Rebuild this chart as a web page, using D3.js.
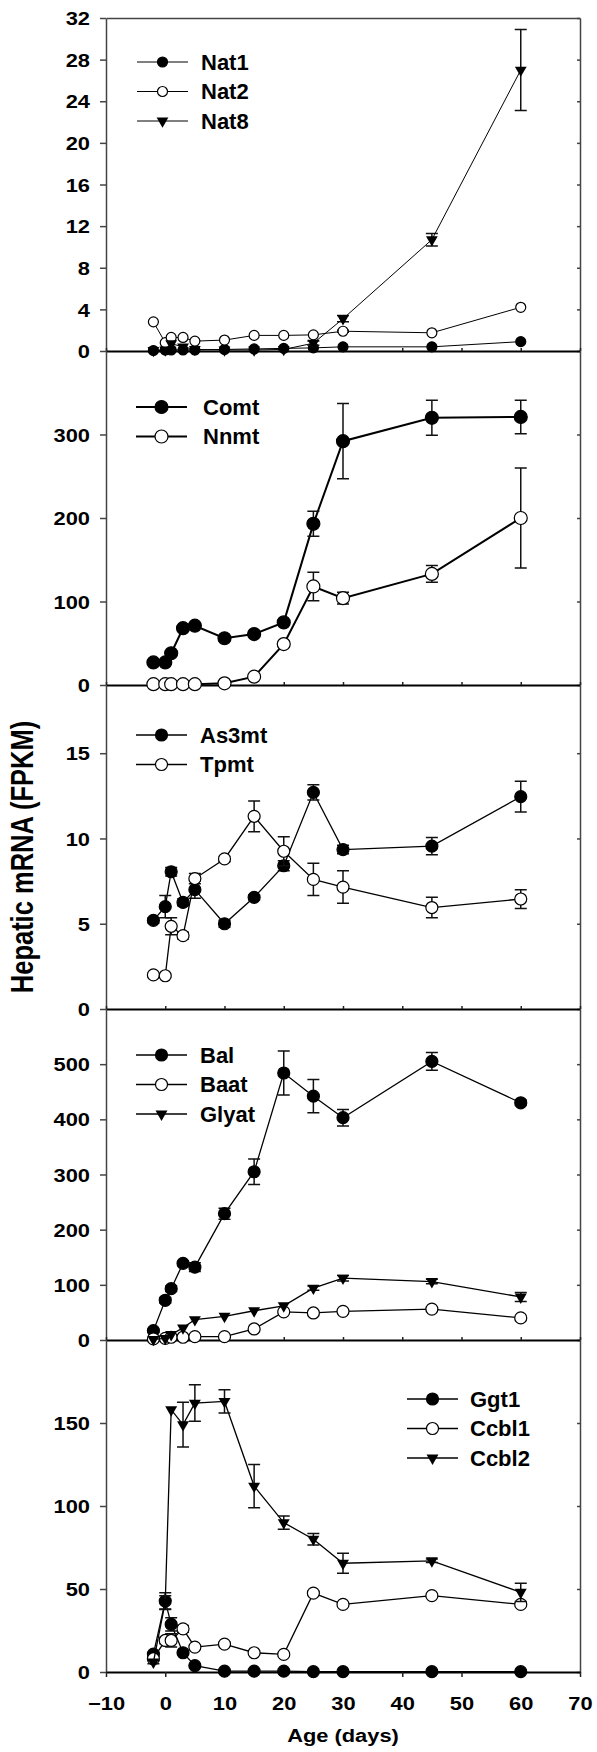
<!DOCTYPE html>
<html>
<head>
<meta charset="utf-8">
<script src="https://cdn.jsdelivr.net/npm/d3@7"></script>
<style>
  body { margin: 0; background: #fff; }
  text { font-family: "Liberation Sans", Arial, sans-serif; font-weight: bold; fill: #000; }
</style>
</head>
<body>
<svg id="chart" width="597" height="1752"></svg>
<script>
// Ages sampled (days) and x tick labels
const ages = [-2, 0, 1, 3, 5, 10, 15, 20, 25, 30, 45, 60];
const xTicks = [-10, 0, 10, 20, 30, 40, 50, 60, 70];

// Panel 1: N-acetyltransferases
const nat1 = [0.05, 0.1, 0.1, 0.1, 0.1, 0.15, 0.2, 0.25, 0.3, 0.4, 0.4, 0.9];
const nat1Err = [0, 0, 0, 0, 0, 0, 0, 0, 0, 0, 0, 0];
const nat2 = [2.8, 0.8, 1.3, 1.3, 0.95, 1.05, 1.5, 1.5, 1.55, 1.9, 1.75, 4.2];
const nat2Err = [0, 0, 0, 0, 0, 0, 0, 0, 0, 0.1, 0, 0];
const nat8 = [0.05, 0.1, 0.7, 0.4, 0.15, 0.1, 0.1, 0.15, 0.75, 3.1, 10.7, 27.0];
const nat8Err = [0, 0, 0, 0, 0, 0, 0, 0, 0.2, 0.3, 0.6, 3.9];
const natTicks = [0, 4, 8, 12, 16, 20, 24, 28, 32];

// Panel 2: Comt / Nnmt
const comt = [27, 27, 38, 68, 71, 56, 61, 75, 193, 292, 320, 321];
const comtErr = [2, 2, 3, 3, 3, 3, 3, 3, 15, 45, 21, 20];
const nnmt = [1, 1, 1, 1, 1, 2, 10, 49, 118, 104, 133, 200];
const nnmtErr = [0, 0, 0, 0, 0, 0, 1, 3, 17, 7, 10, 60];
const comtTicks = [0, 100, 200, 300];

// Panel 3: As3mt / Tpmt
const as3mt = [5.2, 6.0, 8.05, 6.25, 7.0, 5.0, 6.55, 8.4, 12.7, 9.35, 9.55, 12.45];
const as3mtErr = [0.15, 0.65, 0.25, 0.2, 0.5, 0.2, 0.15, 0.3, 0.45, 0.25, 0.5, 0.9];
const tpmt = [2.0, 1.95, 4.85, 4.3, 7.65, 8.8, 11.3, 9.25, 7.6, 7.15, 5.95, 6.45];
const tpmtErr = [0.1, 0.1, 0.5, 0.2, 0.3, 0.15, 0.9, 0.85, 0.95, 0.95, 0.6, 0.55];
const as3mtTicks = [0, 5, 10, 15];

// Panel 4: Bal / Baat / Glyat
const bal = [17, 72, 93, 139, 132, 229, 305, 484, 442, 403, 505, 430];
const balErr = [3, 5, 5, 4, 8, 10, 23, 40, 30, 15, 16, 5];
const baat = [2, 3, 5, 5, 6, 6, 20, 51, 49, 52, 56, 40];
const baatErr = [0, 0, 0, 0, 0, 0, 2, 3, 3, 3, 3, 3];
const glyat = [1, 3, 10, 22, 37, 43, 53, 62, 94, 112, 106, 78];
const glyatErr = [0, 0, 0, 0, 0, 0, 0, 0, 4, 5, 4, 8];
const balTicks = [0, 100, 200, 300, 400, 500];

// Panel 5: Ggt1 / Ccbl1 / Ccbl2
const ggt1 = [10.8, 42.7, 28.7, 11.6, 3.8, 0.5, 0.5, 0.5, 0.2, 0.2, 0.2, 0.2];
const ggt1Err = [1, 5, 4, 1, 0.5, 0, 0, 0, 0, 0, 0, 0];
const ccbl1 = [8, 19, 19, 26, 15, 16.8, 11.6, 10.6, 47.5, 40.7, 46, 40.7];
const ccbl1Err = [1, 2, 4, 2, 1, 1, 1, 1, 1, 1, 1, 1];
const ccbl2 = [6, 42, 158, 149, 162, 163, 112, 90, 80, 65.5, 67, 48];
const ccbl2Err = [1, 4, 0, 13.5, 11, 7, 13, 4, 3.5, 6, 1, 5.5];
const ggtTicks = [0, 50, 100, 150];

// Layout
const plotLeft = 106, plotRight = 580;
const textStretch = 1.15;

const svg = d3.select("#chart");

const x = d3.scaleLinear()
    .domain([-10, 70])
    .range([plotLeft, plotRight]);

const panels = [
    { top: 18, bottom: 351, domain: [0, 32], ticks: natTicks, r: 5, tri: 60, lw: 1,
      legendX: 137, legendY: 62, legendTextDx: 64,
      series: [
          { name: "Nat1", shape: "filled", values: nat1, err: nat1Err },
          { name: "Nat2", shape: "open", values: nat2, err: nat2Err },
          { name: "Nat8", shape: "triangle", values: nat8, err: nat8Err }
      ] },
    { top: 351, bottom: 685, domain: [0, 400], ticks: comtTicks, r: 6.5, tri: 70, lw: 2,
      legendX: 136, legendY: 407, legendTextDx: 67,
      series: [
          { name: "Comt", shape: "filled", values: comt, err: comtErr },
          { name: "Nnmt", shape: "open", values: nnmt, err: nnmtErr }
      ] },
    { top: 685, bottom: 1009, domain: [0, 19], ticks: as3mtTicks, r: 6, tri: 62, lw: 1.3,
      legendX: 136, legendY: 735, legendTextDx: 64,
      series: [
          { name: "As3mt", shape: "filled", values: as3mt, err: as3mtErr },
          { name: "Tpmt", shape: "open", values: tpmt, err: tpmtErr }
      ] },
    { top: 1009, bottom: 1340, domain: [0, 600], ticks: balTicks, r: 6, tri: 62, lw: 1.3,
      legendX: 136, legendY: 1055, legendTextDx: 64,
      series: [
          { name: "Bal", shape: "filled", values: bal, err: balErr },
          { name: "Baat", shape: "open", values: baat, err: baatErr },
          { name: "Glyat", shape: "triangle", values: glyat, err: glyatErr }
      ] },
    { top: 1340, bottom: 1672, domain: [0, 200], ticks: ggtTicks, r: 6, tri: 62, lw: 1.3,
      legendX: 407, legendY: 1399, legendTextDx: 63,
      series: [
          { name: "Ggt1", shape: "filled", values: ggt1, err: ggt1Err },
          { name: "Ccbl1", shape: "open", values: ccbl1, err: ccbl1Err },
          { name: "Ccbl2", shape: "triangle", values: ccbl2, err: ccbl2Err }
      ] }
];

// Draw one marker into a selection
function addMarker(sel, shape, r, tri, cx, cy) {
    if (shape === "triangle") {
        sel.append("path")
            .attr("d", d3.symbol().type(d3.symbolTriangle).size(tri)())
            .attr("transform", `translate(${cx},${cy}) rotate(180)`)
            .attr("fill", "#000");
    } else {
        sel.append("circle")
            .attr("cx", cx)
            .attr("cy", cy)
            .attr("r", r)
            .attr("fill", shape === "open" ? "#fff" : "#000")
            .attr("stroke", "#000")
            .attr("stroke-width", 1.2);
    }
}

panels.forEach((p, i) => {
    const y = d3.scaleLinear().domain(p.domain).range([p.bottom, p.top]);
    const g = svg.append("g");
    const isLast = i === panels.length - 1;

    // Right border with inward ticks
    g.append("g")
        .attr("transform", `translate(${plotRight},0)`)
        .call(d3.axisRight(y).tickValues(p.ticks).tickSizeInner(-3).tickSizeOuter(0).tickFormat(""))
        .call(a => a.selectAll("path, line").attr("stroke", "#444").attr("stroke-width", 1.5));

    // Top border only on the first panel
    if (i === 0) {
        g.append("g")
            .attr("transform", `translate(0,${y(p.domain[1])})`)
            .call(d3.axisTop(x).tickValues([]).tickSizeOuter(0))
            .call(a => a.select("path").attr("stroke", "#444").attr("stroke-width", 1.5));
    }

    // Left axis
    g.append("g")
        .attr("transform", `translate(${plotLeft},0)`)
        .call(d3.axisLeft(y).tickValues(p.ticks).tickSize(6).tickSizeOuter(0))
        .call(a => a.selectAll("path, line").attr("stroke", "#444").attr("stroke-width", 1.5))
        .call(a => a.selectAll("text")
            .attr("x", -16 / textStretch)
            .attr("dy", "0.35em")
            .attr("transform", `scale(${textStretch},1)`)
            .style("font-size", "19px"));

    // Bottom axis
    const bottomAxis = isLast
        ? d3.axisBottom(x).tickValues(xTicks).tickSize(5).tickSizeOuter(0)
        : d3.axisBottom(x).tickValues(xTicks).tickSizeInner(-3).tickSizeOuter(0).tickFormat("");
    g.append("g")
        .attr("transform", `translate(0,${p.bottom})`)
        .call(bottomAxis)
        .call(a => a.select("path").attr("stroke", "#000").attr("stroke-width", 2))
        .call(a => a.selectAll("line").attr("stroke", "#222").attr("stroke-width", 1.5))
        .call(a => a.selectAll("text")
            .attr("y", 38.5)
            .attr("dy", null)
            .attr("transform", `scale(${textStretch},1)`)
            .style("font-size", "19px"));

    // Series: line, error bars, markers
    const line = d3.line()
        .x(d => x(d.age))
        .y(d => y(d.v));

    p.series.forEach(s => {
        const rows = ages.map((a, k) => ({ age: a, v: s.values[k], e: s.err[k] }));
        const sg = g.append("g");

        sg.append("path")
            .datum(rows)
            .attr("fill", "none")
            .attr("stroke", "#000")
            .attr("stroke-width", p.lw)
            .attr("d", line);

        rows.filter(d => d.e > 0).forEach(d => {
            const cx = x(d.age), y1 = y(d.v - d.e), y2 = y(d.v + d.e);
            sg.append("path")
                .attr("d", `M${cx},${y1}V${y2}M${cx - 6},${y1}H${cx + 6}M${cx - 6},${y2}H${cx + 6}`)
                .attr("fill", "none")
                .attr("stroke", "#111")
                .attr("stroke-width", 1.5);
        });

        rows.forEach(d => addMarker(sg, s.shape, p.r, p.tri, x(d.age), y(d.v)));
    });

    // Legend
    const lg = g.append("g");
    p.series.forEach((s, j) => {
        const ly = p.legendY + j * 29.5;
        lg.append("line")
            .attr("x1", p.legendX)
            .attr("x2", p.legendX + 51)
            .attr("y1", ly)
            .attr("y2", ly)
            .attr("stroke", "#000")
            .attr("stroke-width", p.lw);
        addMarker(lg, s.shape, p.r, p.tri, p.legendX + 25.5, ly);
        lg.append("text")
            .attr("x", p.legendX + p.legendTextDx)
            .attr("y", ly)
            .attr("dy", "0.36em")
            .style("font-size", "22px")
            .text(s.name);
    });
});

// Axis titles
svg.append("text")
    .attr("transform", `translate(343,1742) scale(${textStretch},1)`)
    .attr("text-anchor", "middle")
    .style("font-size", "19px")
    .text("Age (days)");

svg.append("text")
    .attr("transform", "translate(33,857) scale(1.2,1) rotate(-90)")
    .attr("text-anchor", "middle")
    .style("font-size", "25.5px")
    .text("Hepatic mRNA (FPKM)");
</script>
</body>
</html>
